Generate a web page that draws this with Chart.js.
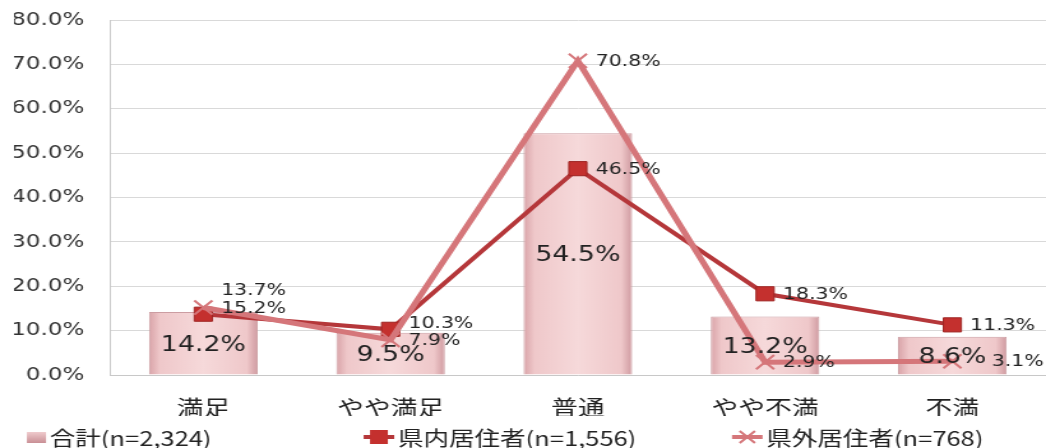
<!DOCTYPE html>
<html>
<head>
<meta charset="utf-8">
<script src="https://cdn.jsdelivr.net/npm/chart.js@4"></script>
<style>
  html, body { margin: 0; padding: 0; background: #fff; overflow: hidden; }
  #chart { display: block; transform: scaleX(1.2756); transform-origin: 0 0; }
</style>
</head>
<body>
<canvas id="chart" width="820" height="448"></canvas>
<script>
const categories = ["満足", "やや満足", "普通", "やや不満", "不満"];
const totalValues = [14.2, 9.5, 54.5, 13.2, 8.6];
const inPrefValues = [13.7, 10.3, 46.5, 18.3, 11.3];
const outPrefValues = [15.2, 7.9, 70.8, 2.9, 3.1];
const seriesNames = ["合計(n=2,324)", "県内居住者(n=1,556)", "県外居住者(n=768)"];

// label nudges so the overlapping labels sit like in the original
const inPrefNudgeY = [-24, -6, 0, 0, 0];
const outPrefNudgeX = [0, 0, 0, 0, 17];

const pinkLine = "#d5767a";
const redLine = "#b5373a";

function barFill(c) {
    const chart = c.chart;
    if (!chart.chartArea) return "#efc4c6";
    const x = chart.scales.x.getPixelForValue(c.dataIndex);
    const w = chart.scales.x.width / categories.length * 0.58;
    const g = chart.ctx.createLinearGradient(x - w / 2, 0, x + w / 2, 0);
    g.addColorStop(0, "#d9a3a8");
    g.addColorStop(0.1, "#efc8ca");
    g.addColorStop(0.5, "#f6d9da");
    g.addColorStop(0.9, "#efc8ca");
    g.addColorStop(1, "#cf9aa0");
    return g;
}

const valueLabels = {
    id: "valueLabels",
    afterDatasetsDraw(chart) {
        const ctx = chart.ctx;
        ctx.save();
        ctx.fillStyle = "#222";
        chart.data.datasets.forEach((ds, di) => {
            const meta = chart.getDatasetMeta(di);
            meta.data.forEach((el, i) => {
                const txt = ds.data[i].toFixed(1) + "%";
                if (ds.type === "bar") {
                    ctx.font = '21px "DejaVu Sans"';
                    ctx.textAlign = "center";
                    ctx.textBaseline = "middle";
                    ctx.fillText(txt, el.x, (el.y + el.base) / 2 + 2);
                } else {
                    ctx.font = '16px "DejaVu Sans"';
                    ctx.textAlign = "left";
                    ctx.textBaseline = "middle";
                    let dx = 14, dy = 1;
                    if (di === 1) dy += inPrefNudgeY[i];
                    if (di === 2) dx += outPrefNudgeX[i];
                    ctx.fillText(txt, el.x + dx, el.y + dy);
                }
            });
        });
        ctx.restore();
    }
};

const bottomLegend = {
    id: "bottomLegend",
    afterDraw(chart) {
        const ctx = chart.ctx;
        const y = 437;
        const iconW = [15, 24, 24];
        const gapIcon = 3;
        const centers = [0.114, 0.478, 0.82];
        ctx.save();
        ctx.font = '20px "Noto Sans CJK JP"';
        ctx.textBaseline = "middle";
        ctx.textAlign = "left";
        seriesNames.forEach((t, i) => {
            const w = iconW[i] + gapIcon + ctx.measureText(t).width;
            const x = chart.width * centers[i] - w / 2;
            if (i === 0) {
                const g = ctx.createLinearGradient(0, y - 6, 0, y + 6);
                g.addColorStop(0, "#f3d0d2");
                g.addColorStop(1, "#c98f95");
                ctx.fillStyle = g;
                ctx.fillRect(x, y - 5, iconW[0], 11);
            } else if (i === 1) {
                ctx.strokeStyle = redLine;
                ctx.lineWidth = 4;
                ctx.beginPath(); ctx.moveTo(x, y); ctx.lineTo(x + iconW[1], y); ctx.stroke();
                ctx.fillStyle = "#c4302e";
                ctx.fillRect(x + iconW[1] / 2 - 7, y - 7, 14, 14);
            } else {
                ctx.strokeStyle = pinkLine;
                ctx.lineWidth = 4;
                ctx.beginPath(); ctx.moveTo(x, y); ctx.lineTo(x + iconW[2], y); ctx.stroke();
                ctx.lineWidth = 2;
                const cx = x + iconW[2] / 2;
                ctx.beginPath();
                ctx.moveTo(cx - 6, y - 6); ctx.lineTo(cx + 6, y + 6);
                ctx.moveTo(cx - 6, y + 6); ctx.lineTo(cx + 6, y - 6);
                ctx.stroke();
            }
            ctx.fillStyle = "#222";
            ctx.fillText(t, x + iconW[i] + gapIcon, y + 1);
        });
        ctx.restore();
    }
};

new Chart(document.getElementById("chart"), {
    data: {
        labels: categories,
        datasets: [
            {
                type: "bar",
                label: seriesNames[0],
                data: totalValues,
                backgroundColor: barFill,
                borderColor: "#cc9da2",
                borderWidth: 1,
                categoryPercentage: 1,
                barPercentage: 0.58,
                order: 3
            },
            {
                type: "line",
                label: seriesNames[1],
                data: inPrefValues,
                borderColor: redLine,
                borderWidth: 4,
                pointStyle: "rect",
                pointRadius: 10,
                pointBackgroundColor: "#c4302e",
                pointBorderColor: "#9e2523",
                pointBorderWidth: 1,
                tension: 0,
                clip: false,
                order: 2
            },
            {
                type: "line",
                label: seriesNames[2],
                data: outPrefValues,
                borderColor: pinkLine,
                borderWidth: 5,
                pointStyle: "crossRot",
                pointRadius: 10,
                pointBorderColor: pinkLine,
                pointBorderWidth: 2,
                tension: 0,
                clip: false,
                order: 1
            }
        ]
    },
    options: {
        responsive: false,
        animation: false,
        devicePixelRatio: 1,
        layout: { autoPadding: false, padding: { left: 11, right: 0, top: 20, bottom: 32 } },
        plugins: {
            legend: { display: false },
            tooltip: { enabled: false }
        },
        scales: {
            x: {
                grid: { display: false },
                border: { color: "#c8c8c8" },
                afterFit: s => { s.height = 41; s.paddingLeft = 0; s.paddingRight = 0; },
                ticks: {
                    color: "#222",
                    padding: 11,
                    font: { family: "Noto Sans CJK JP", size: 21 }
                }
            },
            y: {
                min: 0,
                max: 80,
                grid: { color: "#d9d9d9", drawTicks: false },
                border: { color: "#c8c8c8" },
                afterFit: s => { s.width = 75; s.paddingTop = 0; s.paddingBottom = 0; },
                ticks: {
                    stepSize: 10,
                    padding: 20,
                    color: "#333",
                    font: { family: "DejaVu Sans", size: 18 },
                    callback: v => v.toFixed(1) + "%"
                }
            }
        }
    },
    plugins: [valueLabels, bottomLegend]
});
</script>
</body>
</html>
